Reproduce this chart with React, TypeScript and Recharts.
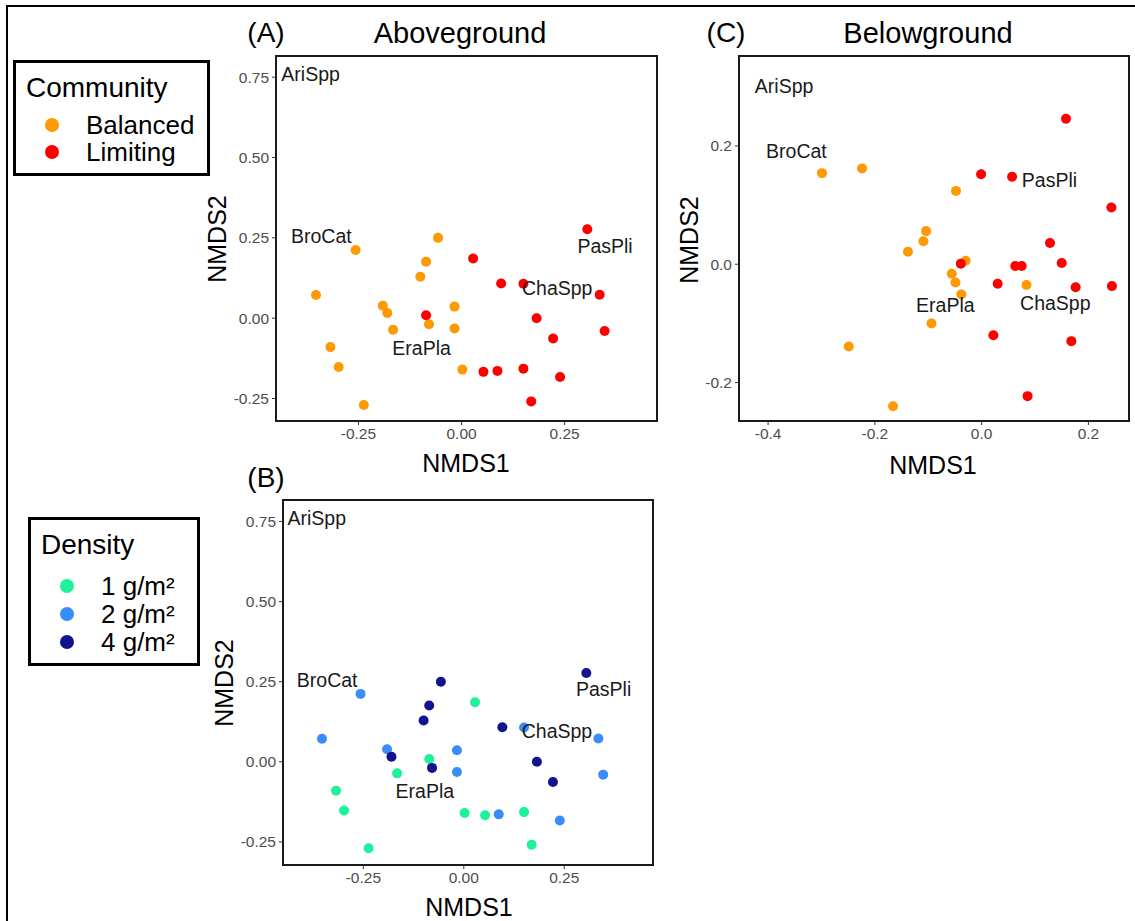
import React from 'react';
import {
  ScatterChart, Scatter, XAxis, YAxis, ReferenceArea,
} from 'recharts';

const FONT = '"Liberation Sans", Arial, Helvetica, sans-serif';

// aboveground NMDS scores (panels A and B share them)
const aboveNMDS1 = [
  -0.257, -0.057, -0.086, -0.100, -0.353, -0.191, -0.180, -0.166, -0.079, -0.017, -0.017, -0.318, -0.298, -0.237, 0.002,
  0.305, 0.028, 0.096, 0.150, 0.335, -0.086, 0.182, 0.347, 0.222, 0.053, 0.087, 0.150, 0.239, 0.169,
];
const aboveNMDS2 = [
  0.212, 0.250, 0.176, 0.129, 0.072, 0.039, 0.016, -0.036, -0.019, 0.036, -0.032, -0.090, -0.152, -0.270, -0.160,
  0.277, 0.186, 0.108, 0.107, 0.073, 0.009, 0.000, -0.040, -0.063, -0.167, -0.164, -0.157, -0.183, -0.259,
];
const aboveCommunity = [
  'Balanced', 'Balanced', 'Balanced', 'Balanced', 'Balanced', 'Balanced', 'Balanced', 'Balanced', 'Balanced', 'Balanced',
  'Balanced', 'Balanced', 'Balanced', 'Balanced', 'Balanced',
  'Limiting', 'Limiting', 'Limiting', 'Limiting', 'Limiting', 'Limiting', 'Limiting', 'Limiting', 'Limiting', 'Limiting',
  'Limiting', 'Limiting', 'Limiting', 'Limiting',
];
const aboveDensity = [
  '2', '4', '4', '4', '2', '2', '4', '1', '4', '2', '2', '1', '1', '1', '1',
  '4', '1', '4', '2', '2', '1', '4', '2', '4', '1', '2', '1', '2', '1',
];

// belowground NMDS scores (panel C)
const belowNMDS1 = [
  -0.299, -0.224, -0.048, -0.104, -0.109, -0.138, -0.030, -0.056, -0.049, -0.038, 0.084, -0.094, -0.249, -0.166,
  0.158, -0.001, 0.057, 0.243, 0.128, -0.039, 0.063, 0.075, 0.150, 0.030, 0.176, 0.244, 0.022, 0.168, 0.086,
];
const belowNMDS2 = [
  0.154, 0.162, 0.124, 0.056, 0.039, 0.021, 0.006, -0.016, -0.031, -0.051, -0.035, -0.100, -0.139, -0.240,
  0.246, 0.152, 0.148, 0.096, 0.036, 0.001, -0.003, -0.003, 0.002, -0.033, -0.039, -0.037, -0.120, -0.130, -0.223,
];
const belowCommunity = [
  'Balanced', 'Balanced', 'Balanced', 'Balanced', 'Balanced', 'Balanced', 'Balanced', 'Balanced', 'Balanced', 'Balanced',
  'Balanced', 'Balanced', 'Balanced', 'Balanced',
  'Limiting', 'Limiting', 'Limiting', 'Limiting', 'Limiting', 'Limiting', 'Limiting', 'Limiting', 'Limiting', 'Limiting',
  'Limiting', 'Limiting', 'Limiting', 'Limiting', 'Limiting',
];

// species labels
const speciesNames = ['AriSpp', 'BroCat', 'PasPli', 'ChaSpp', 'EraPla'];
const aboveSpeciesX = [-0.366, -0.340, 0.348, 0.232, -0.097];
const aboveSpeciesY = [0.76, 0.256, 0.226, 0.095, -0.092];
const belowSpeciesX = [-0.370, -0.347, 0.127, 0.138, -0.068];
const belowSpeciesY = [0.301, 0.191, 0.142, -0.065, -0.069];

const communityLevels = ['Balanced', 'Limiting'];
const communityColors = ['#FF9900', '#FF0000'];
const densityLevels = ['1', '2', '4'];
const densityLabels = ['1 g/m²', '2 g/m²', '4 g/m²'];
const densityColors = ['#1DF29A', '#3A8DF8', '#13138F'];

const aboveXTicks = [-0.25, 0, 0.25];
const aboveYTicks = [-0.25, 0, 0.25, 0.5, 0.75];
const belowXTicks = [-0.4, -0.2, 0, 0.2];
const belowYTicks = [-0.2, 0, 0.2];

const aboveRows = aboveNMDS1.map((x, i) => ({
  x, y: aboveNMDS2[i], community: aboveCommunity[i], density: aboveDensity[i],
}));
const belowRows = belowNMDS1.map((x, i) => ({ x, y: belowNMDS2[i], community: belowCommunity[i] }));
const aboveSpecies = speciesNames.map((name, i) => ({ name, x: aboveSpeciesX[i], y: aboveSpeciesY[i] }));
const belowSpecies = speciesNames.map((name, i) => ({ name, x: belowSpeciesX[i], y: belowSpeciesY[i] }));

const dot = (color: string) => (p: any) => <circle cx={p.cx} cy={p.cy} r={5} fill={color} />;
const speciesText = (p: any) => (
  <text x={p.cx} y={p.cy} textAnchor="middle" dominantBaseline="central" fontSize={19.5} fontFamily={FONT} fill="#1a1a1a">
    {p.payload.name}
  </text>
);

interface PanelProps {
  left: number; top: number; width: number; yAxisWidth: number; right: number;
  xDomain: [number, number]; yDomain: [number, number];
  xTicks: number[]; yTicks: number[]; digits: number;
  groups: { key: string; color: string; data: any[] }[];
  species: any[];
}

const Panel = ({ left, top, width, yAxisWidth, right, xDomain, yDomain, xTicks, yTicks, digits, groups, species }: PanelProps) => {
  const tick = { fill: '#4d4d4d', fontSize: 15.5, fontFamily: FONT };
  return (
    <div style={{ position: 'absolute', left, top }}>
      <ScatterChart width={width} height={400} margin={{ top: 10, right, bottom: 0, left: 0 }}>
        <XAxis
          type="number" dataKey="x" domain={xDomain} ticks={xTicks} allowDataOverflow
          height={25} axisLine={false} tickLine={{ stroke: '#333' }} tickSize={4} tickMargin={3}
          tick={tick} tickFormatter={(v) => v.toFixed(digits)}
        />
        <YAxis
          type="number" dataKey="y" domain={yDomain} ticks={yTicks} allowDataOverflow
          width={yAxisWidth} axisLine={false} tickLine={{ stroke: '#333' }} tickSize={4} tickMargin={3}
          tick={tick} tickFormatter={(v) => v.toFixed(digits)}
        />
        <ReferenceArea x1={xDomain[0]} x2={xDomain[1]} y1={yDomain[0]} y2={yDomain[1]}
          fill="none" stroke="#1a1a1a" strokeWidth={2} fillOpacity={0} />
        {groups.map((g) => (
          <Scatter key={g.key} data={g.data} shape={dot(g.color)} isAnimationActive={false} />
        ))}
        <Scatter data={species} shape={speciesText} isAnimationActive={false} />
      </ScatterChart>
    </div>
  );
};

const Txt = ({ x, y, size, children, rotate }: any) => (
  <div style={{
    position: 'absolute', left: x, top: y, fontSize: size, fontFamily: FONT, color: '#000', whiteSpace: 'nowrap',
    lineHeight: 1, transform: `translate(-50%, -50%)${rotate ? ' rotate(-90deg)' : ''}`,
  }}>{children}</div>
);

const LegendBox = ({ left, top, width, height, title, labels, colors, rowTop, rowStep }: any) => (
  <div style={{
    position: 'absolute', left, top, width, height, border: '3px solid #000', boxSizing: 'border-box',
    fontFamily: FONT, background: '#fff',
  }}>
    <div style={{ position: 'absolute', left: 10, top: 25, fontSize: 28, lineHeight: 1, transform: 'translateY(-50%)' }}>{title}</div>
    {labels.map((l: string, i: number) => (
      <React.Fragment key={l}>
        <span style={{
          position: 'absolute', left: 29, top: rowTop + i * rowStep - 7,
          width: 14, height: 14, borderRadius: 7, background: colors[i],
        }} />
        <span style={{
          position: 'absolute', left: 70, top: rowTop + i * rowStep, transform: 'translateY(-50%)',
          fontSize: 26, lineHeight: 0.85, whiteSpace: 'nowrap',
        }}>{l}</span>
      </React.Fragment>
    ))}
  </div>
);

export default function App() {
  const aboveByCommunity = communityLevels.map((c, i) => ({
    key: c, color: communityColors[i], data: aboveRows.filter((r) => r.community === c),
  }));
  const aboveByDensity = densityLevels.map((d, i) => ({
    key: d, color: densityColors[i], data: aboveRows.filter((r) => r.density === d),
  }));
  const belowByCommunity = communityLevels.map((c, i) => ({
    key: c, color: communityColors[i], data: belowRows.filter((r) => r.community === c),
  }));

  return (
    <div style={{ position: 'absolute', left: 0, top: 0, width: 1135, height: 921, background: '#fff', overflow: 'hidden' }}>
      <div style={{ position: 'absolute', left: 6, top: 5, width: 1200, height: 1000, borderLeft: '2px solid #000', borderTop: '2px solid #000' }} />

      <Panel left={200} top={46} width={470} yAxisWidth={76} right={13}
        xDomain={[-0.45, 0.474]} yDomain={[-0.32, 0.816]} xTicks={aboveXTicks} yTicks={aboveYTicks} digits={2}
        groups={aboveByCommunity} species={aboveSpecies} />
      <Panel left={200} top={490} width={465} yAxisWidth={83} right={12}
        xDomain={[-0.45, 0.471]} yDomain={[-0.322, 0.817]} xTicks={aboveXTicks} yTicks={aboveYTicks} digits={2}
        groups={aboveByDensity} species={aboveSpecies} />
      <Panel left={670} top={46} width={465} yAxisWidth={69} right={6}
        xDomain={[-0.4545, 0.276]} yDomain={[-0.265, 0.352]} xTicks={belowXTicks} yTicks={belowYTicks} digits={1}
        groups={belowByCommunity} species={belowSpecies} />

      <Txt x={266} y={33} size={28}>(A)</Txt>
      <Txt x={460} y={33} size={29}>Aboveground</Txt>
      <Txt x={726} y={33} size={28}>(C)</Txt>
      <Txt x={928} y={33} size={29}>Belowground</Txt>
      <Txt x={266} y={478} size={28}>(B)</Txt>

      <Txt x={466} y={463} size={25}>NMDS1</Txt>
      <Txt x={469} y={907} size={25}>NMDS1</Txt>
      <Txt x={933} y={465} size={25}>NMDS1</Txt>
      <Txt x={217} y={239} size={25} rotate>NMDS2</Txt>
      <Txt x={224} y={683} size={25} rotate>NMDS2</Txt>
      <Txt x={689} y={240} size={25} rotate>NMDS2</Txt>

      <LegendBox left={13} top={60} width={197} height={116} title="Community"
        labels={communityLevels} colors={communityColors} rowTop={62} rowStep={27} />
      <LegendBox left={28} top={517} width={172} height={149} title="Density"
        labels={densityLabels} colors={densityColors} rowTop={66} rowStep={28} />
    </div>
  );
}
